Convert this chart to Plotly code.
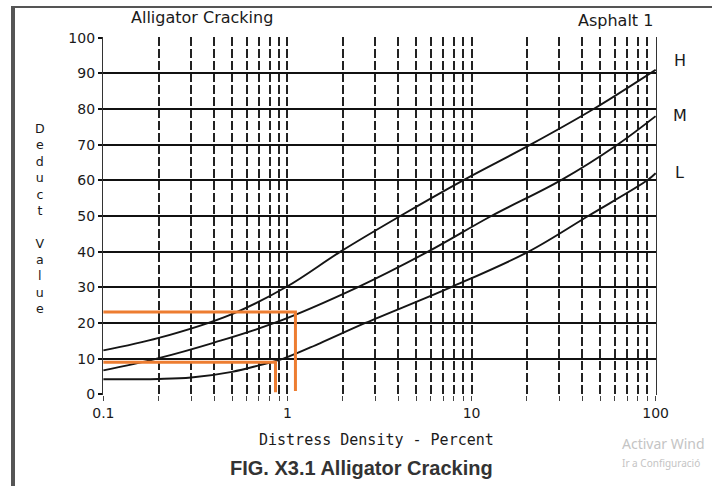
import plotly.graph_objects as go

# ---- data ----
h_x = [0.1, 0.2, 0.5, 1.0, 1.94, 4.1, 9.0, 20.9, 46, 100]
h_y = [12.3, 15.8, 22.5, 30.3, 40, 50, 60, 70, 80, 91]

m_x = [0.1, 0.195, 0.4, 0.85, 2.4, 5.8, 12.8, 30.5, 62, 100]
m_y = [6.7, 10, 14.5, 20, 30, 40, 50, 60, 70, 78]

l_x = [0.1, 0.2, 0.3, 0.5, 0.7, 0.95, 1.5, 2.65, 7.7, 20.4, 43, 90, 100]
l_y = [4.2, 4.3, 4.7, 6.3, 8.1, 10, 14.3, 20, 30, 40, 50, 60, 62]

orange1_x = [0.1, 1.105, 1.105]
orange1_y = [23.1, 23.1, 0.9]
orange2_x = [0.1, 0.861, 0.861]
orange2_y = [9.0, 9.0, 0.6]

x_tickvals = [0.1, 1, 10, 100]
x_ticktext = ["0.1", "1", "10", "100"]
y_tickvals = [0, 10, 20, 30, 40, 50, 60, 70, 80, 90, 100]

# ---- layout geometry (pixels) ----
W, H = 712, 486
L, R, T, B = 103, 656, 37, 395


def px_x(p):
    return (p - L) / (R - L)


def px_y(p):
    return (B - p) / (B - T)


fig = go.Figure()

for xs, ys in ((h_x, h_y), (m_x, m_y), (l_x, l_y)):
    fig.add_trace(go.Scatter(x=xs, y=ys, mode="lines",
                             line=dict(color="#151515", width=1.9, shape="spline", smoothing=1.0),
                             hoverinfo="skip", showlegend=False))

for xs, ys in ((orange1_x, orange1_y), (orange2_x, orange2_y)):
    fig.add_trace(go.Scatter(x=xs, y=ys, mode="lines",
                             line=dict(color="#ED7D31", width=3),
                             hoverinfo="skip", showlegend=False, cliponaxis=False))

tick_font = dict(family="DejaVu Sans", size=14, color="#1a1a1a")

fig.update_layout(
    width=W, height=H,
    margin=dict(l=L, r=W - R, t=T, b=H - B),
    paper_bgcolor="white", plot_bgcolor="white",
    xaxis=dict(
        type="log", range=[-1.002, 2.002],
        tickmode="array", tickvals=x_tickvals, ticktext=x_ticktext,
        showgrid=True, gridcolor="#222", gridwidth=1.5, griddash="9px,3px",
        ticks="outside", ticklen=5, tickcolor="#444", tickwidth=1,
        minor=dict(dtick="D1", showgrid=True, gridcolor="#222", gridwidth=1.5,
                   griddash="9px,3px", ticks="outside", ticklen=5, tickcolor="#444"),
        showline=False, zeroline=False,
        tickfont=tick_font,
    ),
    yaxis=dict(
        range=[-0.2, 100.2], tickmode="array", tickvals=y_tickvals,
        showgrid=True, gridcolor="#111", gridwidth=2,
        ticks="outside", ticklen=4, tickcolor="#111", tickwidth=2,
        showline=True, mirror=True, linecolor="#333", linewidth=1.3,
        zeroline=False,
        tickfont=tick_font,
    ),
)

ann = []


def add_text(text, x, y, size, family="DejaVu Sans", color="#1a1a1a", xanchor="center", weight=None):
    f = dict(family=family, size=size, color=color)
    if weight:
        f["weight"] = weight
    ann.append(dict(text=text, x=px_x(x), y=px_y(y), xref="paper", yref="paper",
                    showarrow=False, xanchor=xanchor, yanchor="middle", font=f))


add_text("Alligator Cracking", 202, 18, 16)
add_text("Asphalt 1", 615, 20, 16)
add_text("H", 680, 60, 16)
add_text("M", 680, 116, 16)
add_text("L", 679, 172, 16)
add_text("D<br>e<br>d<br>u<br>c<br>t<br> <br>V<br>a<br>l<br>u<br>e", 40, 218, 12.6)
add_text("Distress Density - Percent", 376, 440, 15, family="DejaVu Sans Mono")
add_text("FIG. X3.1 Alligator Cracking", 361, 468, 20, family="Liberation Sans", color="#333", weight="bold")
add_text("Activar Wind", 620, 443, 14, family="Noto Sans", color="#c4c4c4", xanchor="left")
add_text("Ir a Configuració", 620, 463, 10, family="Noto Sans", color="#c4c4c4", xanchor="left")

fig.update_layout(annotations=ann)

# page frame (scan border)
fig.add_shape(type="line", xref="paper", yref="paper",
              x0=px_x(11), x1=px_x(712), y0=px_y(7), y1=px_y(7),
              line=dict(color="#555", width=2))
fig.add_shape(type="line", xref="paper", yref="paper",
              x0=px_x(13), x1=px_x(13), y0=px_y(6), y1=px_y(486),
              line=dict(color="#555", width=4))

fig.write_html("out.html")
